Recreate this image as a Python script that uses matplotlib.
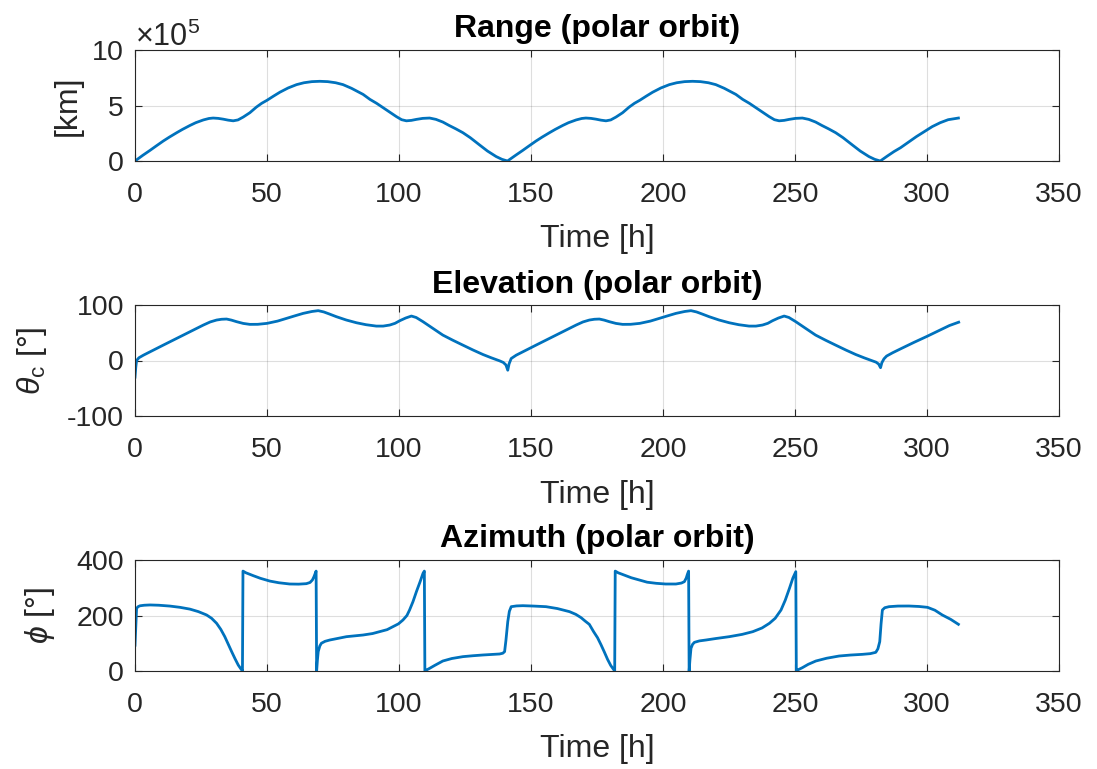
import matplotlib
matplotlib.use("Agg")
import matplotlib.pyplot as plt
from matplotlib.ticker import ScalarFormatter
import numpy as np

# ---------------- data ----------------
range_t = [0, 3, 5.7, 8, 10.7, 13, 15.8, 18, 20.8, 23, 25.9, 28, 29.6, 31.5, 33.4, 35.3, 37.2,
           39, 41, 43.5, 46, 48, 50, 52.5, 54.9, 58, 61.2, 64, 67, 70, 73, 76, 78.8, 82, 84,
           86.4, 89, 91.5, 94, 96.5, 99, 101, 102.8, 104.7, 106.6, 109, 111.6, 114, 116.6,
           119, 121.5, 124.2, 127, 130.5, 133.5, 136.8, 139, 141.1,
           144.2, 146.9, 149.2, 151.9, 154.2, 157, 159.2, 162, 164.2, 167.1, 169.2, 170.8,
           172.7, 174.6, 176.5, 178.4, 180.2, 182.2, 184.7, 187.2, 189.2, 191.2, 193.7, 196.1,
           199.2, 202.4, 205.2, 208.2, 211.2, 214.2, 217.2, 220, 223.2, 225.2, 227.6, 230.2,
           232.7, 235.2, 237.7, 240.2, 242.2, 244, 245.9, 247.8, 250.2, 252.8, 255.2, 257.8,
           260.2, 262.7, 265.4, 268.2, 271.7, 274.7, 278, 280.2, 282.3,
           285, 287.5, 290, 293, 296, 299, 302, 305, 308, 311.9]
range_1e5km = [0, 0.52, 0.96, 1.35, 1.8, 2.15, 2.55, 2.85, 3.2, 3.45, 3.7, 3.83, 3.87, 3.84,
               3.77, 3.68, 3.62, 3.7, 3.96, 4.35, 4.86, 5.2, 5.47, 5.85, 6.2, 6.58, 6.88, 7.05,
               7.15, 7.18, 7.15, 7.05, 6.88, 6.55, 6.3, 6.0, 5.55, 5.2, 4.8, 4.4, 4.0, 3.72,
               3.62, 3.66, 3.75, 3.84, 3.87, 3.75, 3.51, 3.2, 2.9, 2.55, 2.1, 1.45, 0.9, 0.4,
               0.15, 0.0,
               0.52, 0.96, 1.35, 1.8, 2.15, 2.55, 2.85, 3.2, 3.45, 3.7, 3.83, 3.87,
               3.84, 3.77, 3.68, 3.62, 3.7, 3.96, 4.35, 4.86, 5.2, 5.47, 5.85, 6.2,
               6.58, 6.88, 7.05, 7.15, 7.18, 7.15, 7.05, 6.88, 6.55, 6.3, 6.0, 5.55,
               5.2, 4.8, 4.4, 4.0, 3.72, 3.62, 3.66, 3.75, 3.84, 3.87, 3.75, 3.51,
               3.2, 2.9, 2.55, 2.1, 1.45, 0.9, 0.4, 0.15, 0.0,
               0.45, 0.85, 1.2, 1.7, 2.2, 2.65, 3.1, 3.45, 3.72, 3.87]

elev_t = [0, 0.3, 0.6, 1.5, 3.2, 10.7, 18.3, 25.9, 28.5, 30.9, 32.8, 34.7, 36.5, 38.5, 41,
          43.5, 46.5, 50, 54, 57.4, 60.5, 63.7, 67, 69.4, 71.5, 73.5, 76.3, 80, 83.9, 87.5,
          91.4, 94, 96.5, 98.5, 100.3, 102.5, 104.7, 106.5, 109.1, 112.8, 116.6, 120.4,
          124.2, 128, 131.8, 135, 138.1, 139.5, 140.5, 141.2, 141.7, 142.5,
          144.4, 151.9, 159.5, 167.1, 169.7, 172.1, 174, 175.9, 177.7, 179.7, 182.2, 184.7,
          187.7, 191.2, 195.2, 198.6, 201.7, 204.9, 208.2, 210.6, 212.7, 214.7, 217.5,
          221.2, 225.1, 228.7, 232.6, 235.2, 237.7, 239.7, 241.5, 243.7, 245.9, 247.7,
          250.3, 254, 257.8, 261.6, 265.4, 269.2, 273, 276.2, 279.3, 280.7, 281.7, 282.4,
          282.9, 283.7, 284.7, 287, 290, 295, 300, 305, 308.5, 312]
elev_deg = [-30, -12, 0, 5, 9.6, 27.7, 45.8, 63.9, 69.5, 72.9, 74.3, 74.7, 72.8, 69.9, 66.8,
            65.1, 65.2, 66.9, 71, 75.9, 80.4, 84.9, 88.3, 89.8, 87.5, 84.0, 78.9, 73, 68, 64.5,
            62, 62, 63.9, 67, 71.7, 76.5, 80.1, 77.5, 69.9, 58, 45.8, 36.5,
            27.7, 19, 10.8, 4.8, -0.6, -3.5, -8, -17.5, -6, 3.6,
            9.6, 27.7, 45.8, 63.9, 69.5, 72.9, 74.3, 74.7, 72.8, 69.9, 66.8, 65.1,
            65.2, 66.9, 71, 75.9, 80.4, 84.9, 88.3, 89.8, 87.5, 84, 78.9,
            73, 68, 64.5, 62, 62, 63.9, 67, 71.7, 76.5, 80.1, 77.5,
            69.9, 58, 45.8, 36.5, 27.7, 19, 10.8, 4.8, -0.6, -3, -6.5, -13,
            -4, 3, 8, 14, 21, 32.5, 43.5, 55, 63, 69]

azim_t = [0, 0.3, 0.6, 1.2, 1.9, 3.5, 5.7, 9, 13.2, 17, 20.8, 24, 27.1, 29, 30.9, 32.5, 34,
          35.3, 36.6, 37.9, 39.1, 40, 40.7, 40.9, 42, 44.8, 47.5, 51.1, 54.5, 58.6, 62, 64.9,
          66.3, 67.2, 67.8, 68.3, 68.6, 68.8, 69.1, 69.4, 70, 70.6, 72, 73.8, 77, 80.1, 86.4,
          90, 92.7, 95.5, 97.7, 99.8, 101.5, 103, 104, 105.3, 106.6, 108, 109.1, 109.6,
          109.8, 110.5, 111.6, 113.5, 116.6, 120, 124.2, 128, 131.8, 135, 138.1, 139.3,
          140, 140.5, 141.2, 141.8, 142.5, 144.5, 146.9, 151, 155.7, 160, 164.6, 167, 169,
          170.5, 172.1, 173.7, 175.2, 176.5, 177.8, 179, 180.2, 181.1, 181.7, 181.9, 183,
          184.7, 188, 191, 194, 197.4, 201, 204.9, 207, 208.1, 208.8, 209.3, 209.7, 209.9,
          210.2, 210.6, 211.2, 211.9, 213.8, 216.3, 220, 225.1, 230, 234, 237.5, 240.3,
          242.5, 244.7, 246.3, 247.9, 249.2, 250.3, 250.5, 251.3, 252.8, 255, 257.9, 262,
          266.7, 271, 275.5, 278.5, 280.6, 281.4, 282.1, 282.6, 283.1, 284, 285.6, 289,
          293.2, 297, 300.2, 303, 305.8, 309, 311.9]
azim_deg = [93, 160, 226, 232, 235, 237, 238, 237, 234, 229.5, 223, 214, 202, 190, 172, 150,
            124, 97, 70, 44, 21.6, 9, 0, 360, 354, 343.5, 334, 324, 318, 313.5, 313, 314.7,
            319, 328, 340, 352, 360, 0, 40, 70, 90, 100, 107, 111.7, 118, 123.7, 129.7,
            135, 141.7, 149, 159.8, 170, 183.8, 200, 219.8, 250, 286, 322, 352, 360,
            0, 4, 9.6, 20, 36, 45, 51.7, 55, 57.7, 59.5, 61.3, 64,
            69.7, 110, 177.8, 215, 231.8, 234.5, 235.4, 234, 231.8, 225, 213.8, 204, 192,
            180, 168, 142, 120, 95, 68, 42, 20, 8, 0, 360, 354,
            348, 336, 328, 320, 316, 313.5, 313.5, 317, 322, 335, 350, 360, 0,
            40, 81.7, 96, 103.3, 108.5, 111.7, 117, 123.7, 132, 141.7, 155, 171.8,
            190, 219.8, 255, 298, 335, 358, 0, 5, 12, 24, 36, 46,
            54, 57.5, 60, 62.5, 67.3, 80, 105.7, 170, 219.8, 228, 231.8, 234,
            234.2, 232.5, 229.4, 219, 201.8, 186, 168.2]

titles = ["Range (polar orbit)", "Elevation (polar orbit)", "Azimuth (polar orbit)"]
ylabels = ["[km]", r"$\theta_{\mathrm{c}}$ [°]", r"$\phi$ [°]"]
xlabel = "Time [h]"

# ---------------- style ----------------
plt.rcParams["font.family"] = ["Liberation Sans", "DejaVu Sans"]
plt.rcParams["axes.unicode_minus"] = False
plt.rcParams["mathtext.fontset"] = "custom"
plt.rcParams["mathtext.it"] = "Liberation Sans:italic"
plt.rcParams["mathtext.rm"] = "Liberation Sans"
FS_TICK = 20.5
FS_LAB = 23
DARK = "#262626"
LINE = "#0072BD"

fig = plt.figure(figsize=(10.97, 7.69), dpi=100)
left, width = 135 / 1097, (1059 - 135) / 1097
tops = [50, 305, 560]
h_px = 111
ylabelpads = [6, 13, 14]

series = [
    (range_t, np.array(range_1e5km) * 1e5, (0, 1e6), [0, 5e5, 1e6]),
    (elev_t, elev_deg, (-100, 100), [-100, 0, 100]),
    (azim_t, azim_deg, (0, 400), [0, 200, 400]),
]

for i, (t, v, ylim, yt) in enumerate(series):
    bottom = 1 - (tops[i] + h_px) / 769
    ax = fig.add_axes([left, bottom, width, h_px / 769])
    ax.plot(t, v, color=LINE, lw=2.0)
    ax.set_xlim(0, 350)
    ax.set_ylim(*ylim)
    ax.set_xticks(np.arange(0, 351, 50))
    ax.set_yticks(yt)
    ax.grid(True, color=DARK, alpha=0.15, lw=0.8)
    ax.tick_params(direction="in", top=True, right=True, length=5, width=0.8,
                   labelsize=FS_TICK, colors=DARK, pad=8)
    ax.tick_params(axis="x", pad=15)
    for s in ax.spines.values():
        s.set_color(DARK)
        s.set_linewidth(0.8)
    ax.set_title(titles[i], fontsize=FS_LAB, fontweight="bold", pad=9, color="black")
    ax.set_xlabel(xlabel, fontsize=FS_LAB, color=DARK, labelpad=12)
    ax.set_ylabel(ylabels[i], fontsize=FS_LAB, color=DARK, labelpad=ylabelpads[i])
    if i == 0:
        fmt = ScalarFormatter(useMathText=True)
        fmt.set_powerlimits((5, 5))
        ax.yaxis.set_major_formatter(fmt)
        ax.yaxis.get_offset_text().set_fontsize(22)
        ax.yaxis.get_offset_text().set_color(DARK)

fig.savefig("out.png", dpi=100)
